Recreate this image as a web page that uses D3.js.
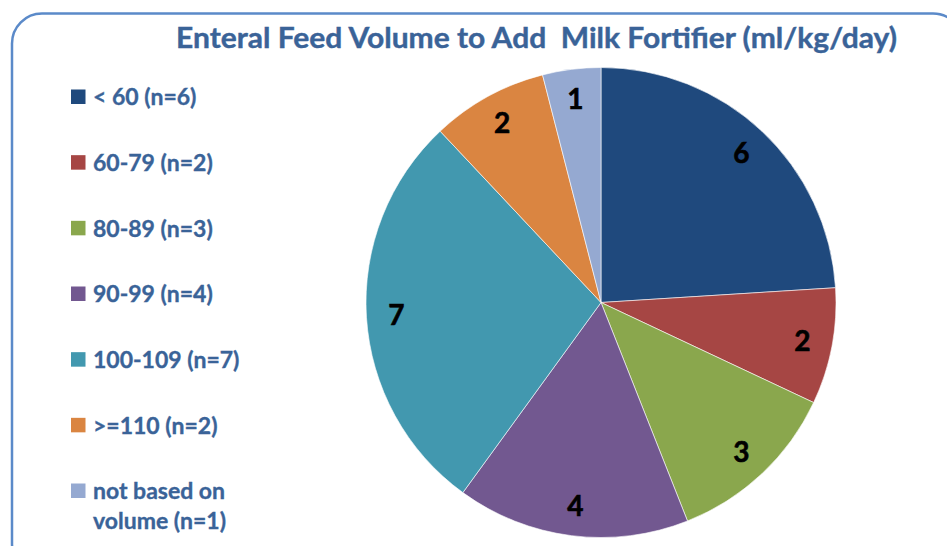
<!DOCTYPE html>
<html>
<head>
<meta charset="utf-8">
<script src="https://cdn.jsdelivr.net/npm/d3@7/dist/d3.min.js"></script>
<style>
html,body{margin:0;padding:0;background:#fff;}
svg{display:block;}
</style>
</head>
<body>
<svg id="chart" width="947" height="546"></svg>
<script>
const title = "Enteral Feed Volume to Add  Milk Fortifier (ml/kg/day)";
const categories = ["< 60 (n=6)", "60-79 (n=2)", "80-89 (n=3)", "90-99 (n=4)", "100-109 (n=7)", ">=110 (n=2)", "not based on volume (n=1)"];
const legendLines = [["< 60 (n=6)"], ["60-79 (n=2)"], ["80-89 (n=3)"], ["90-99 (n=4)"], ["100-109 (n=7)"], [">=110 (n=2)"], ["not based on", "volume (n=1)"]];
const values = [6, 2, 3, 4, 7, 2, 1];
const colors = ["#1F497D", "#A64644", "#8AA74D", "#725890", "#4298AF", "#DA8541", "#95A9D1"];

const svg = d3.select("#chart");
const textColor = "#3A6398";

// border
svg.append("rect")
  .attr("x", 12).attr("y", 13.5)
  .attr("width", 951).attr("height", 560)
  .attr("rx", 30).attr("ry", 30)
  .attr("fill", "none")
  .attr("stroke", "#5B8AC9")
  .attr("stroke-width", 2.5);

// title
svg.append("text")
  .attr("x", 176).attr("y", 47.5)
  .attr("font-family", "Lato, 'Open Sans', sans-serif")
  .attr("font-weight", "bold")
  .attr("font-size", 28)
  .attr("fill", textColor)
  .attr("stroke", textColor)
  .attr("stroke-width", 0.4)
  .attr("textLength", 721)
  .attr("lengthAdjust", "spacingAndGlyphs")
  .style("white-space", "pre")
  .text(title);

// pie
const cx = 601, cy = 302.5, R = 235;
const pie = d3.pie().sort(null).value(d => d);
const arcs = pie(values);
const arc = d3.arc().innerRadius(0).outerRadius(R);
const labelArc = d3.arc().innerRadius(205).outerRadius(205);
const g = svg.append("g").attr("transform", `translate(${cx},${cy})`);
g.selectAll("path").data(arcs).enter().append("path")
  .attr("d", arc)
  .attr("fill", (d, i) => colors[i])
  .attr("stroke", "#ffffff")
  .attr("stroke-width", 0.6);
g.selectAll("text.lbl").data(arcs).enter().append("text")
  .attr("class", "lbl")
  .attr("transform", d => `translate(${labelArc.centroid(d)})`)
  .attr("text-anchor", "middle")
  .attr("dy", "0.36em")
  .attr("font-family", "Lato, 'Open Sans', sans-serif")
  .attr("font-weight", "bold")
  .attr("font-size", 28)
  .attr("fill", "#000")
  .attr("stroke", "#000")
  .attr("stroke-width", 0.6)
  .text(d => d.data);

// legend
const legY = d3.scalePoint().domain(d3.range(categories.length)).range([97, 491]);
const leg = svg.append("g");
categories.forEach((c, i) => {
  const y = legY(i);
  leg.append("rect")
    .attr("x", 71).attr("y", y - 7.5)
    .attr("width", 14.5).attr("height", 14.5)
    .attr("fill", colors[i]);
  legendLines[i].forEach((line, j) => {
    leg.append("text")
      .attr("x", 93).attr("y", y + j * 30)
      .attr("dy", "0.36em")
      .attr("font-family", "Lato, 'Open Sans', sans-serif")
      .attr("font-weight", "bold")
      .attr("font-size", 23)
      .attr("fill", textColor)
      .attr("stroke", textColor)
      .attr("stroke-width", 0.35)
      .text(line);
  });
});
</script>
</body>
</html>
